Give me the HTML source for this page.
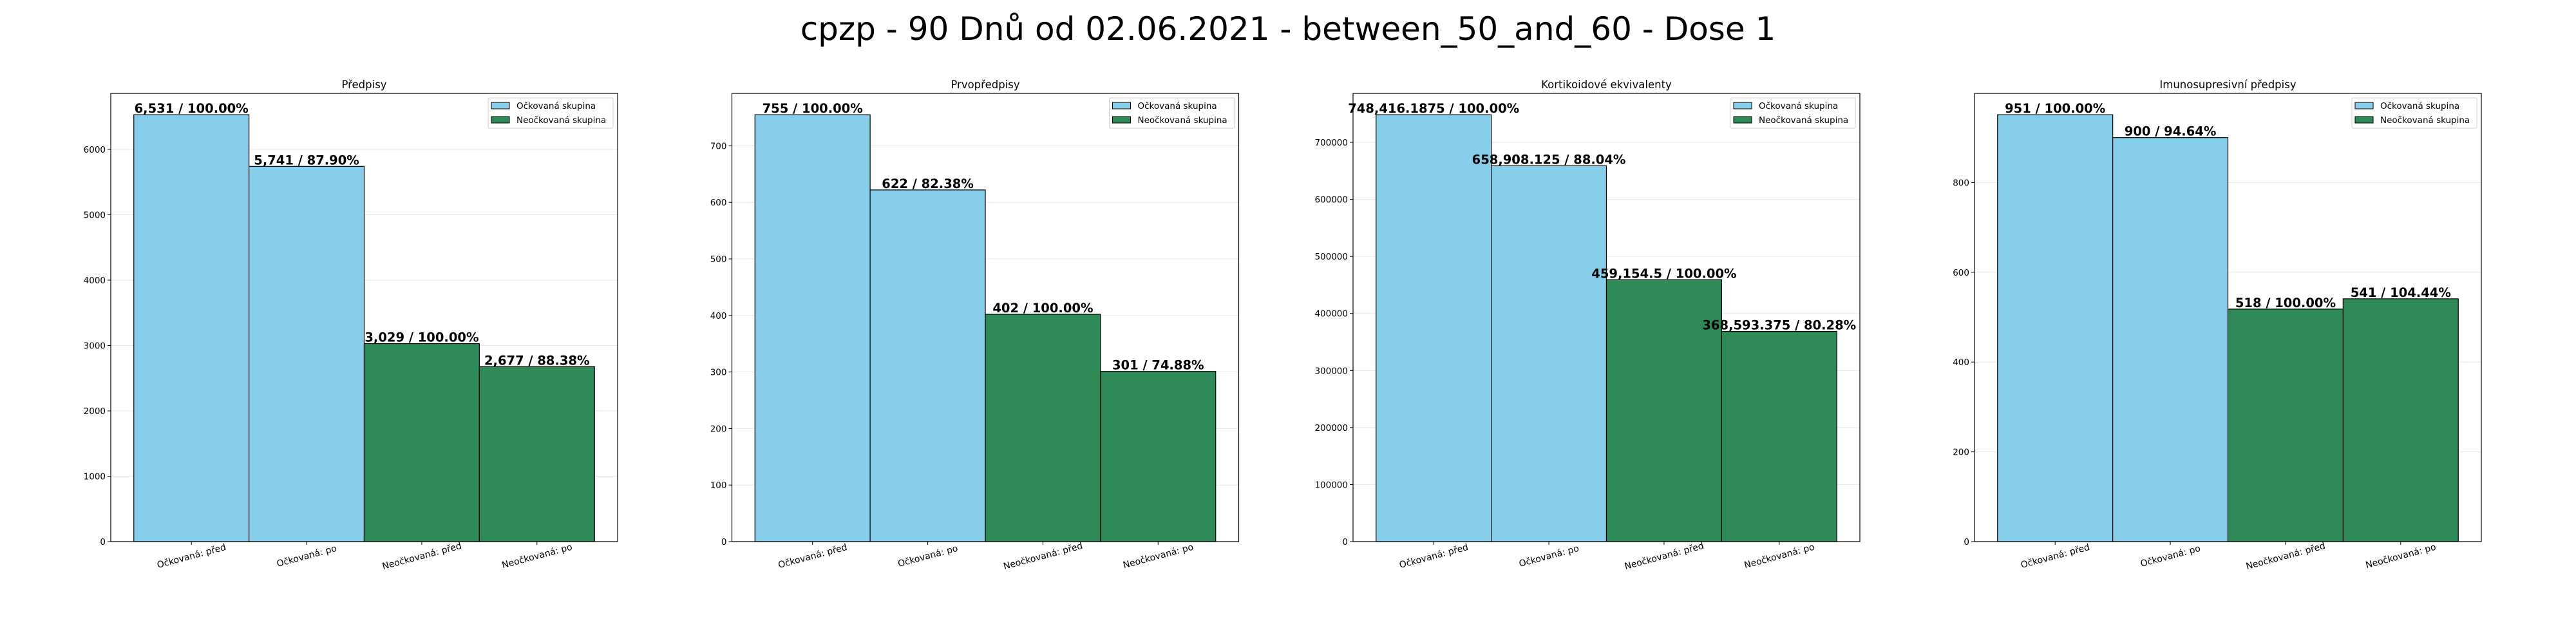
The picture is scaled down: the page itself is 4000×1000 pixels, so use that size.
<!DOCTYPE html>
<html><head><meta charset="utf-8">
<style>
html,body{margin:0;padding:0;background:#fff;}
svg{display:block;font-family:"DejaVu Sans","Liberation Sans",sans-serif;}
</style></head>
<body>
<svg id="fig" width="4000" height="1000" viewBox="0 0 4000 1000" xmlns="http://www.w3.org/2000/svg">
<rect width="4000" height="1000" fill="#fff"/>
<text x="2000" y="62" font-size="50" text-anchor="middle" fill="#000">cpzp - 90 Dnů od 02.06.2021 - between_50_and_60 - Dose 1</text>
</svg>
<script>
const categories = ["Očkovaná: před","Očkovaná: po","Neočkovaná: před","Neočkovaná: po"];
const chartTitles = ["Předpisy","Prvopředpisy","Kortikoidové ekvivalenty","Imunosupresivní předpisy"];
const values1 = [6531, 5741, 3029, 2677];
const values2 = [755, 622, 402, 301];
const values3 = [748416.1875, 658908.125, 459154.5, 368593.375];
const values4 = [951, 900, 518, 541];
const labels1 = ["6,531 / 100.00%","5,741 / 87.90%","3,029 / 100.00%","2,677 / 88.38%"];
const labels2 = ["755 / 100.00%","622 / 82.38%","402 / 100.00%","301 / 74.88%"];
const labels3 = ["748,416.1875 / 100.00%","658,908.125 / 88.04%","459,154.5 / 100.00%","368,593.375 / 80.28%"];
const labels4 = ["951 / 100.00%","900 / 94.64%","518 / 100.00%","541 / 104.44%"];
const ticks1 = [0,1000,2000,3000,4000,5000,6000];
const ticks2 = [0,100,200,300,400,500,600,700];
const ticks3 = [0,100000,200000,300000,400000,500000,600000,700000];
const ticks4 = [0,200,400,600,800];
const legendLabels = ["Očkovaná skupina","Neočkovaná skupina"];

const NS = "http://www.w3.org/2000/svg";
const svg = document.getElementById("fig");
function el(tag, attrs, parent){
  const e = document.createElementNS(NS, tag);
  for (const k in attrs) e.setAttribute(k, attrs[k]);
  (parent||svg).appendChild(e);
  return e;
}
const colors = ["#87CEEB","#87CEEB","#2E8B57","#2E8B57"];
const lefts = [172, 1136.5, 2101, 3066];
const W = 787, TOP = 145, BOT = 841;
const allVals = [values1, values2, values3, values4];
const allLabels = [labels1, labels2, labels3, labels4];
const allTicks = [ticks1, ticks2, ticks3, ticks4];

allVals.forEach((vals, ci) => {
  const L = lefts[ci];
  const g = el("g", {});
  
  
  const ymax = Math.max(...vals) * 1.05;
  const xmin = -0.7, xmax = categories.length - 1 + 0.7;
  const xs = v => L + (v - xmin) / (xmax - xmin) * W;
  const ys = v => BOT - v / ymax * (BOT - TOP);
  allTicks[ci].forEach(t => {
    const y = ys(t);
    const gl = el("line", {x1:L, x2:L+W, y1:y, y2:y, stroke:"#b0b0b0", "stroke-opacity":"0.3", "stroke-width":"1"}, g);
    
    
    const tk = el("line", {x1:L-5, x2:L, y1:y, y2:y, stroke:"#000", "stroke-width":"1"}, g);
    
    
    const tl = el("text", {x:L-8, y:y+5, "font-size":"13.5", "text-anchor":"end", fill:"#000"}, g);
    tl.textContent = String(t);
    
    
  });
  vals.forEach((v, i) => {
    const x0 = xs(i - 0.5), x1 = xs(i + 0.5);
    const b = el("rect", {x:x0, y:ys(v), width:x1-x0, height:BOT-ys(v), fill:colors[i], stroke:"#000", "stroke-width":"1.2"}, g);
    
    
    const lb = el("text", {x:xs(i), y:ys(v)-3, "font-size":"19.5", "font-weight":"bold", "text-anchor":"middle", fill:"#000"}, g);
    lb.textContent = allLabels[ci][i];
    
    
    const tk = el("line", {x1:xs(i), x2:xs(i), y1:BOT, y2:BOT+5, stroke:"#000", "stroke-width":"1"}, g);
    
    
    const cx = xs(i), cy = BOT + 27;
    const xl = el("text", {x:cx, y:cy, "font-size":"14", "text-anchor":"middle", fill:"#000", transform:"rotate(-15 "+cx+" "+(cy-5)+")"}, g);
    xl.textContent = categories[i];
    
    
  });
  const fr = el("rect", {x:L, y:TOP, width:W, height:BOT-TOP, fill:"none", stroke:"#000", "stroke-width":"1.2"}, g);
  
  
  const tt = el("text", {x:L+W/2, y:TOP-8, "font-size":"16.5", "text-anchor":"middle", fill:"#000"}, g);
  tt.textContent = chartTitles[ci];
  
  
  const lx = L + W - 201, ly = TOP + 7;
  const lg = el("g", {}, g);
  
  
  el("rect", {x:lx, y:ly, width:194, height:47, rx:2, fill:"#fff", "fill-opacity":"0.8", stroke:"#d0d0d0", "stroke-width":"1"}, lg);
  legendLabels.forEach((t, k) => {
    const yy = ly + 7 + k*22;
    const sw = el("rect", {x:lx+5, y:yy, width:28, height:10, fill:k===0?"#87CEEB":"#2E8B57", stroke:"#000", "stroke-width":"1"}, lg);
    
    
    const tx = el("text", {x:lx+44, y:yy+10, "font-size":"13.5", fill:"#000"}, lg);
    tx.textContent = t;
    
    
  });
});
</script>
</body></html>
